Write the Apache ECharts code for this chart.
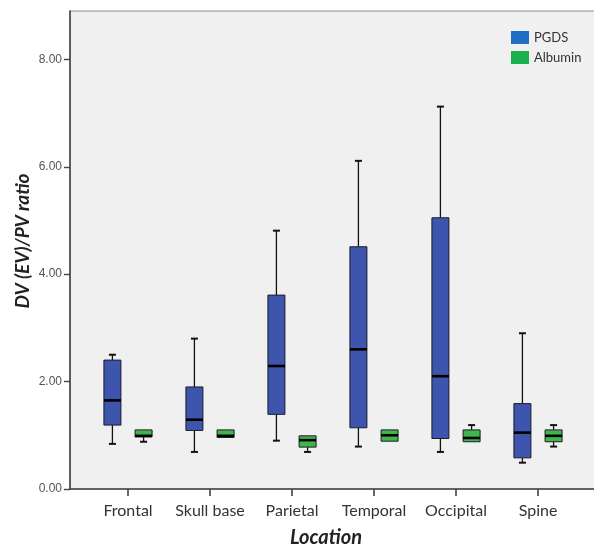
<!DOCTYPE html>
<html>
<head>
<meta charset="utf-8">
<script src="https://cdn.jsdelivr.net/npm/echarts@6/dist/echarts.min.js"></script>
<style>
  html, body { margin: 0; padding: 0; background: #fff; }
  #chart { width: 594px; height: 547px; }
</style>
</head>
<body>
<div id="chart"></div>
<script>
// categories along the x axis
var categories = ['Frontal', 'Skull base', 'Parietal', 'Temporal', 'Occipital', 'Spine']
var yTicks = [0, 2, 4, 6, 8]

// PGDS box statistics (whisker low, Q1, median, Q3, whisker high)
var pgdsMin = [0.84, 0.69, 0.90, 0.79, 0.69, 0.49]
var pgdsQ1 = [1.19, 1.09, 1.39, 1.14, 0.94, 0.58]
var pgdsMedian = [1.65, 1.29, 2.29, 2.60, 2.10, 1.05]
var pgdsQ3 = [2.40, 1.90, 3.61, 4.51, 5.05, 1.59]
var pgdsMax = [2.50, 2.80, 4.81, 6.11, 7.12, 2.90]

// Albumin box statistics
var albMin = [0.88, 0.96, 0.69, 0.89, 0.88, 0.79]
var albQ1 = [0.97, 0.96, 0.78, 0.89, 0.88, 0.88]
var albMedian = [0.99, 0.99, 0.91, 1.00, 0.95, 0.99]
var albQ3 = [1.10, 1.10, 0.99, 1.10, 1.10, 1.10]
var albMax = [1.10, 1.10, 0.99, 1.10, 1.19, 1.19]

function buildRows(mins, q1s, meds, q3s, maxs) {
  return categories.map(function (c, i) {
    return [i, mins[i], q1s[i], meds[i], q3s[i], maxs[i]]
  })
}

// draws one SPSS style box: whiskers with short caps, filled box, thick median
function boxRenderer(side, fill) {
  return function (params, api) {
    var cat = api.value(0)
    var band = api.size([1, 0])[0]
    var x = api.coord([cat, 0])[0] + side * band * 0.19
    var yMin = api.coord([cat, api.value(1)])[1]
    var yQ1 = api.coord([cat, api.value(2)])[1]
    var yMed = api.coord([cat, api.value(3)])[1]
    var yQ3 = api.coord([cat, api.value(4)])[1]
    var yMax = api.coord([cat, api.value(5)])[1]
    var half = 8.5
    var cap = 3.5
    var lineStyle = { stroke: '#111', lineWidth: 1.3 }
    var kids = []
    if (yMax < yQ3 - 0.5) {
      kids.push({ type: 'line', shape: { x1: x, y1: yMax, x2: x, y2: yQ3 }, style: lineStyle })
      kids.push({ type: 'line', shape: { x1: x - cap, y1: yMax, x2: x + cap, y2: yMax }, style: { stroke: '#111', lineWidth: 2 } })
    }
    if (yMin > yQ1 + 0.5) {
      kids.push({ type: 'line', shape: { x1: x, y1: yQ1, x2: x, y2: yMin }, style: lineStyle })
      kids.push({ type: 'line', shape: { x1: x - cap, y1: yMin, x2: x + cap, y2: yMin }, style: { stroke: '#111', lineWidth: 2 } })
    }
    kids.push({
      type: 'rect',
      shape: { x: x - half, y: yQ3, width: half * 2, height: yQ1 - yQ3 },
      style: { fill: fill, stroke: '#1c1c2a', lineWidth: 1 }
    })
    kids.push({
      type: 'line',
      shape: { x1: x - half, y1: yMed, x2: x + half, y2: yMed },
      style: { stroke: '#000', lineWidth: 2.6 }
    })
    return { type: 'group', children: kids }
  }
}

var chart = echarts.init(document.getElementById('chart'))
var axisColor = '#444'

var option = {
  backgroundColor: '#fff',
  animation: false,
  legend: {
    orient: 'vertical',
    left: 506,
    top: 26,
    itemWidth: 18,
    itemHeight: 13,
    itemGap: 7,
    icon: 'rect',
    textStyle: { fontFamily: 'Lato', fontSize: 13, color: '#333' },
    data: [
      { name: 'PGDS', itemStyle: { color: '#1f6ec4' } },
      { name: 'Albumin', itemStyle: { color: '#1caf50' } }
    ]
  },
  grid: [
    {
      left: 70, right: -2, top: 11, bottom: 58, outerBoundsMode: 'none',
      show: true, backgroundColor: '#f0f0f0', borderColor: '#8a8a8a', borderWidth: 1
    },
    { left: 87, right: 15, top: 11, bottom: 58, outerBoundsMode: 'none' }
  ],
  xAxis: [
    {
      gridIndex: 0, type: 'value', min: 0, max: 1,
      axisLine: { show: true, lineStyle: { color: axisColor, width: 1.6 } },
      axisTick: { show: false }, axisLabel: { show: false }, splitLine: { show: false }
    },
    {
      gridIndex: 1, type: 'category', data: categories,
      axisLine: { show: false },
      axisTick: { show: true, interval: 0, alignWithLabel: true, length: 7, lineStyle: { color: axisColor, width: 1.6 } },
      axisLabel: { interval: 0, margin: 14, fontFamily: 'Lato', fontSize: 16, color: '#333' },
      splitLine: { show: false },
      name: 'Location', nameLocation: 'middle', nameGap: 39, nameMoveOverlap: false,
      nameTextStyle: { fontFamily: 'Lato', fontSize: 20, fontWeight: 'bold', fontStyle: 'italic', color: '#222', padding: [0, 14, 0, 0] }
    }
  ],
  yAxis: [
    {
      gridIndex: 0, type: 'value', min: 0, max: 8.9,
      axisLine: { show: true, lineStyle: { color: axisColor, width: 1.6 } },
      axisTick: { show: true, length: 6, customValues: yTicks, lineStyle: { color: axisColor, width: 1.4 } },
      axisLabel: {
        customValues: yTicks, margin: 8, fontFamily: 'Liberation Sans', fontSize: 12, color: '#555',
        formatter: function (v) { return v.toFixed(2) }
      },
      splitLine: { show: false },
      name: 'DV (EV)/PV ratio', nameLocation: 'middle', nameGap: 38, nameMoveOverlap: false,
      nameTextStyle: { fontFamily: 'Lato', fontSize: 19, fontWeight: 'bold', fontStyle: 'italic', color: '#222', padding: [0, 0, 0, 18] }
    },
    { gridIndex: 1, type: 'value', min: 0, max: 8.9, show: false }
  ],
  series: [
    {
      name: 'PGDS', type: 'custom', xAxisIndex: 1, yAxisIndex: 1,
      itemStyle: { color: '#3d55ad' },
      renderItem: boxRenderer(-1, '#3d55ad'),
      encode: { x: 0, y: [1, 2, 3, 4, 5] },
      data: buildRows(pgdsMin, pgdsQ1, pgdsMedian, pgdsQ3, pgdsMax)
    },
    {
      name: 'Albumin', type: 'custom', xAxisIndex: 1, yAxisIndex: 1,
      itemStyle: { color: '#3fb64c' },
      renderItem: boxRenderer(1, '#3fb64c'),
      encode: { x: 0, y: [1, 2, 3, 4, 5] },
      data: buildRows(albMin, albQ1, albMedian, albQ3, albMax)
    }
  ]
}

chart.setOption(option)
</script>
</body>
</html>
